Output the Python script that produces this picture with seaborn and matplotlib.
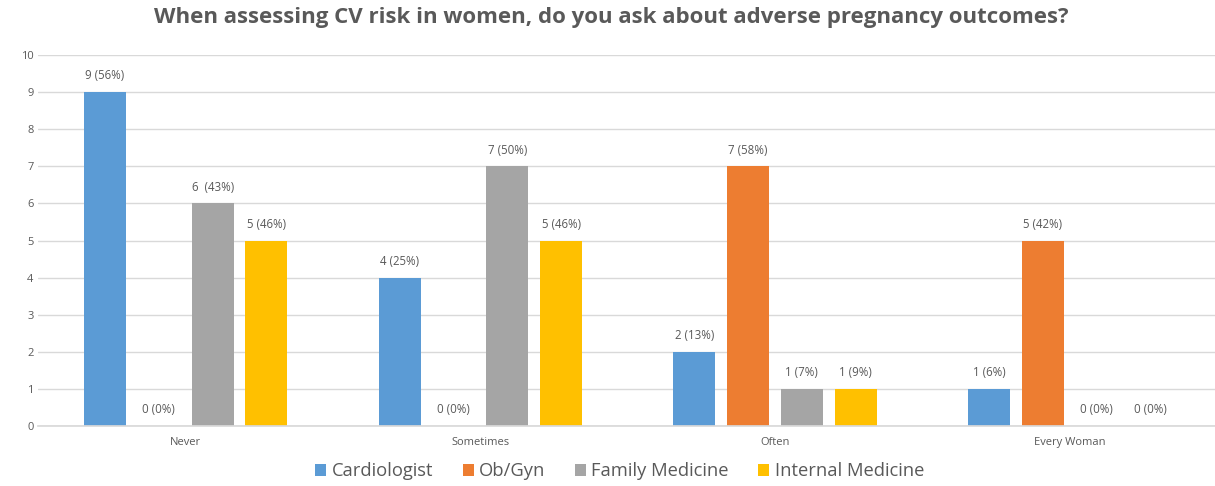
import matplotlib
matplotlib.use("Agg")
import matplotlib.pyplot as plt
import seaborn as sns
import pandas as pd
from matplotlib.patches import Patch

categories = ["Never", "Sometimes", "Often", "Every Woman"]
series = ["Cardiologist", "Ob/Gyn", "Family Medicine", "Internal Medicine"]
cardiologist = [9, 4, 2, 1]
obgyn = [0, 0, 7, 5]
family_med = [6, 7, 1, 0]
internal_med = [5, 5, 1, 0]
label_cardiologist = ["9 (56%)", "4 (25%)", "2 (13%)", "1 (6%)"]
label_obgyn = ["0 (0%)", "0 (0%)", "7 (58%)", "5 (42%)"]
label_family = ["6  (43%)", "7 (50%)", "1 (7%)", "0 (0%)"]
label_internal = ["5 (46%)", "5 (46%)", "1 (9%)", "0 (0%)"]
colors = ["#5B9BD5", "#ED7D31", "#A5A5A5", "#FFC000"]

values = [cardiologist, obgyn, family_med, internal_med]
labels = [label_cardiologist, label_obgyn, label_family, label_internal]

rows = []
for s, vals in zip(series, values):
    for c, v in zip(categories, vals):
        rows.append({"category": c, "series": s, "value": v})
df = pd.DataFrame(rows)

sns.set_theme(style="white")
plt.rcParams["font.family"] = ["Open Sans", "DejaVu Sans"]

fig = plt.figure(figsize=(12.15, 4.86), dpi=100)
ax = fig.add_axes([0.0316, 0.123, 0.970, 0.764])

sns.barplot(data=df, x="category", y="value", hue="series", order=categories,
            hue_order=series, palette=colors, width=0.73, gap=0.22,
            saturation=1, ax=ax, legend=False, errorbar=None, linewidth=0)

txt = "#595959"
for cont, labs in zip(ax.containers, labels):
    ax.bar_label(cont, labels=labs, padding=7, fontsize=8.3, color=txt)

ax.set_ylim(0, 10)
ax.set_yticks(range(0, 11))
ax.yaxis.grid(True, color="#D9D9D9", linewidth=1)
ax.set_axisbelow(True)
for sp in ["top", "right", "left"]:
    ax.spines[sp].set_visible(False)
ax.spines["bottom"].set_color("#D9D9D9")
ax.tick_params(axis="both", length=0, labelsize=8, colors=txt)
ax.tick_params(axis="x", pad=8)
ax.set_xlabel("")
ax.set_ylabel("")

fig.suptitle("When assessing CV risk in women, do you ask about adverse pregnancy outcomes?",
             x=0.503, y=0.985, fontsize=16, fontweight="bold", color=txt)

handles = [Patch(facecolor=c, edgecolor="none") for c in colors]
fig.legend(handles, series, loc="lower center", bbox_to_anchor=(0.51, -0.022), ncol=4,
           frameon=False, fontsize=13.2, handlelength=0.6, handleheight=0.6,
           handletextpad=0.3, columnspacing=1.6, labelcolor=txt)

fig.savefig("out.png", dpi=100)
